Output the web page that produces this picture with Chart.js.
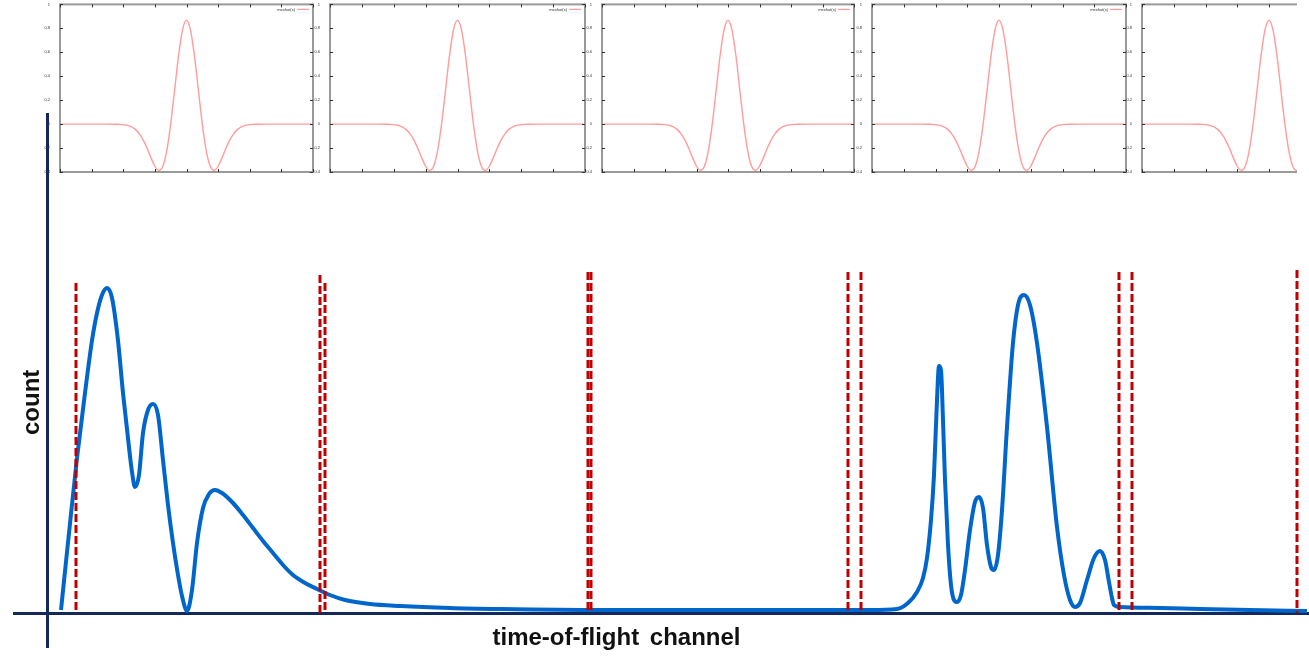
<!DOCTYPE html>
<html>
<head>
<meta charset="utf-8">
<script src="https://cdn.jsdelivr.net/npm/chart.js@4.4.0/dist/chart.umd.min.js"></script>
<style>
  body { margin: 0; background: #fff; width: 1309px; height: 666px; overflow: hidden; position: relative; font-family: "Liberation Sans", Arial, sans-serif; }
  .mini { position: absolute; top: 0; overflow: hidden; }
  #main { position: absolute; left: 0; top: 0; }
  .label { position: absolute; font-weight: bold; font-size: 24px; line-height: 24px; color: #111; white-space: nowrap; }
  #xlab { left: 0; width: 1233px; text-align: center; top: 625px; word-spacing: 4px; }
  #ylab { left: 0; top: 392px; width: 62px; text-align: center; transform: rotate(-90deg); }
</style>
</head>
<body>
<div class="mini" id="m0"><canvas id="c0"></canvas></div>
<div class="mini" id="m1"><canvas id="c1"></canvas></div>
<div class="mini" id="m2"><canvas id="c2"></canvas></div>
<div class="mini" id="m3"><canvas id="c3"></canvas></div>
<div class="mini" id="m4"><canvas id="c4"></canvas></div>
<canvas id="main" width="1309" height="666"></canvas>
<div class="label" id="xlab">time-of-flight channel</div>
<div class="label" id="ylab">count</div>
<script>
// mexican hat wavelet shown in the small gnuplot panels
const mexX = [-8, -6, -5, -4.5, -4, -3.5, -3.25, -3, -2.75, -2.5, -2.25, -2, -1.75, -1.5, -1.25, -1,
  -0.75, -0.5, -0.25, 0, 0.25, 0.5, 0.75, 1, 1.25, 1.5, 1.75, 2, 2.25, 2.5, 2.75, 3, 3.25, 3.5, 4, 4.5, 5, 6, 8];
const mexY = [0, 0, 0, -0.001, -0.004, -0.021, -0.042, -0.077, -0.13, -0.2, -0.28, -0.352, -0.387, -0.352, -0.223, 0,
  0.286, 0.574, 0.788, 0.867, 0.788, 0.574, 0.286, 0, -0.223, -0.352, -0.387, -0.352, -0.28, -0.2, -0.13, -0.077, -0.042, -0.021, -0.004, -0.001, 0, 0, 0];
const mexLabel = "mexhat(x)";

// time-of-flight spectrum
const tofChannel = [14, 22, 30, 38, 45, 50, 55, 60, 65, 71, 76, 80, 85, 88, 92, 96, 101, 106, 111, 116, 121, 126, 131, 135, 140,
  145, 150, 156, 162, 168, 175, 186, 196, 206, 216, 226, 236, 246, 258, 270, 283, 298, 323, 353, 403, 453, 553, 653, 753, 823,
  850, 861, 870, 876, 880, 884, 887, 890, 892, 894, 896, 898, 901, 904, 907, 910, 914, 918, 923, 928, 932, 936, 940, 944, 947,
  951, 955, 960, 966, 971, 977, 983, 990, 1000, 1010, 1017, 1023, 1028, 1033, 1040, 1047, 1053, 1058, 1062, 1065, 1067, 1073,
  1113, 1153, 1203, 1260];
const tofCount = [6, 160, 310, 440, 545, 600, 636, 650, 630, 545, 440, 368, 282, 252, 276, 360, 406, 418, 396, 306, 216, 140, 76, 34, 4,
  46, 140, 210, 238, 246, 240, 220, 196, 170, 144, 120, 96, 76, 60, 48, 36, 26, 18, 14, 10, 8, 6, 6, 6, 6,
  8, 20, 42, 70, 110, 186, 276, 426, 494, 486, 386, 266, 136, 56, 26, 22, 36, 86, 166, 222, 232, 210, 136, 92, 86,
  116, 206, 372, 540, 616, 636, 616, 540, 372, 172, 76, 26, 12, 20, 66, 110, 124, 106, 62, 30, 16, 12,
  10, 8, 6, 4];

// window boundaries (dashed red lines)
const cutChannel = [29, 273, 278, 541, 544, 801, 814, 1072, 1085, 1250];
const cutTop = [660, 676, 660, 682, 682, 682, 682, 682, 682, 686];

const navy = "#14285a";

// gnuplot style frame, inward ticks and key
const gnuFrame = {
  id: "gnuFrame",
  afterDraw(chart) {
    const ctx = chart.ctx;
    const a = chart.chartArea;
    const xs = chart.scales.x, ys = chart.scales.y;
    ctx.save();
    ctx.strokeStyle = "#9a9a9a";
    ctx.lineWidth = 2;
    ctx.strokeRect(a.left, a.top, a.right - a.left, a.bottom - a.top);
    ctx.strokeStyle = "#333";
    ctx.lineWidth = 1;
    ctx.beginPath();
    xs.ticks.forEach(t => {
      const px = Math.round(xs.getPixelForValue(t.value)) + 0.5;
      ctx.moveTo(px, a.bottom); ctx.lineTo(px, a.bottom - 3);
      ctx.moveTo(px, a.top); ctx.lineTo(px, a.top + 3);
    });
    ys.ticks.forEach(t => {
      const py = Math.round(ys.getPixelForValue(t.value)) + 0.5;
      ctx.moveTo(a.left, py); ctx.lineTo(a.left + 3, py);
      ctx.moveTo(a.right, py); ctx.lineTo(a.right - 3, py);
    });
    ctx.stroke();
    ctx.fillStyle = "#333";
    ctx.font = "4px 'Liberation Sans', Arial";
    ctx.textAlign = "right";
    ctx.textBaseline = "middle";
    ctx.fillText(mexLabel, a.right - 18, a.top + 5);
    ctx.strokeStyle = "#ff9c9c";
    ctx.lineWidth = 1.2;
    ctx.beginPath();
    ctx.moveTo(a.right - 16, a.top + 5);
    ctx.lineTo(a.right - 4, a.top + 5);
    ctx.stroke();
    ctx.restore();
  }
};

const miniLeft = [60, 330, 602, 872, 1142];
const miniWidth = [253, 255, 252, 254, 254];
const clipRight = 1297;

miniLeft.forEach((left, i) => {
  const box = document.getElementById("m" + i);
  const cv = document.getElementById("c" + i);
  const cw = miniWidth[i] + 24;
  cv.width = cw;
  cv.height = 182;
  box.style.left = (left - 16) + "px";
  box.style.width = Math.min(cw, clipRight - (left - 16)) + "px";
  box.style.height = "182px";

  new Chart(cv, {
    type: "line",
    data: {
      datasets: [{
        data: mexX.map((x, k) => ({ x: x, y: mexY[k] })),
        borderColor: "#ff9c9c",
        borderWidth: 1.4,
        pointRadius: 0,
        cubicInterpolationMode: "monotone"
      }]
    },
    options: {
      responsive: false,
      animation: false,
      layout: { padding: { top: 0, right: 8, left: 0, bottom: 0 } },
      plugins: { legend: { display: false }, tooltip: { enabled: false } },
      scales: {
        x: {
          type: "linear", min: -8, max: 8,
          ticks: { stepSize: 2, font: { size: 4 }, color: "#333", padding: 2, maxRotation: 0, autoSkip: false },
          grid: { display: false }, border: { display: false },
          afterFit: s => { s.height = 10; }
        },
        y: {
          min: -0.4, max: 1,
          ticks: { stepSize: 0.2, font: { size: 4 }, color: "#333", padding: 2, callback: v => String(Math.round(v * 10) / 10) },
          grid: { display: false }, border: { display: false },
          afterFit: s => { s.width = 16; }
        }
      }
    },
    plugins: [gnuFrame]
  });
});

const cutSets = cutChannel.map((c, i) => ({
  data: [{ x: c, y: cutTop[i] }, { x: c, y: 0 }],
  borderColor: "#c00000",
  borderWidth: 3,
  borderDash: [8, 3],
  pointRadius: 0,
  order: 1
}));

const zeroOnly = s => { s.ticks = [{ value: 0 }]; };
const zeroLine = c => (c.tick && c.tick.value === 0 ? navy : "rgba(0,0,0,0)");

new Chart("main", {
  type: "line",
  data: {
    datasets: cutSets.concat([{
      data: tofChannel.map((c, i) => ({ x: c, y: tofCount[i] })),
      borderColor: "#0066cc",
      borderWidth: 4,
      pointRadius: 0,
      cubicInterpolationMode: "monotone",
      order: 2
    }])
  },
  options: {
    responsive: false,
    animation: false,
    layout: { padding: { left: 13, top: 113, right: 0, bottom: 18 } },
    plugins: { legend: { display: false }, tooltip: { enabled: false } },
    scales: {
      x: {
        type: "linear", min: -34, max: 1262,
        ticks: { display: false }, border: { display: false },
        grid: { color: zeroLine, lineWidth: 3, drawTicks: false },
        afterBuildTicks: zeroOnly,
        afterFit: s => { s.height = 0; }
      },
      y: {
        type: "linear", min: -70, max: 1000,
        ticks: { display: false }, border: { display: false },
        grid: { color: zeroLine, lineWidth: 3, drawTicks: false },
        afterBuildTicks: zeroOnly,
        afterFit: s => { s.width = 0; }
      }
    }
  }
});
</script>
</body>
</html>
